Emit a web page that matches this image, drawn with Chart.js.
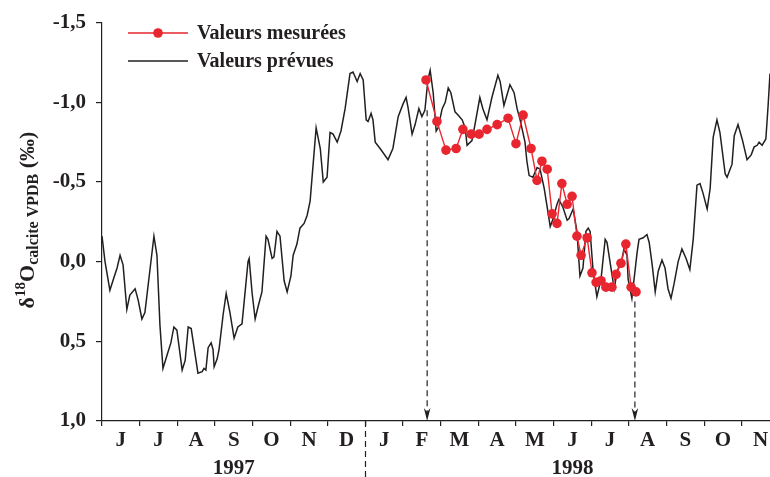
<!DOCTYPE html>
<html>
<head>
<meta charset="utf-8">
<script src="https://cdn.jsdelivr.net/npm/chart.js@4.4.1/dist/chart.umd.min.js"></script>
<style>
  html, body { margin: 0; padding: 0; background: #fff; }
</style>
</head>
<body>
<canvas id="chart" width="770" height="477"></canvas>
<script>
// x values are months counted from 1 June 1997
const monthLabels = ['J', 'J', 'A', 'S', 'O', 'N', 'D', 'J', 'F', 'M', 'A', 'M', 'J', 'J', 'A', 'S', 'O', 'N'];
const yearLabels = ['1997', '1998'];
const yearCenters = [3.5, 12.5];
const yearBreak = 7;
const yTicks = [-1.5, -1.0, -0.5, 0.0, 0.5, 1.0];

// Valeurs prévues (black line)
const predX = [0, 0.08, 0.21, 0.29, 0.40, 0.48, 0.56, 0.66, 0.74, 0.88, 0.96, 1.06, 1.14, 1.28, 1.38, 1.46,
  1.54, 1.62, 1.75, 1.83, 1.91, 1.99, 2.13, 2.21, 2.29, 2.37, 2.55, 2.66, 2.71, 2.76, 2.82, 2.90, 2.95, 2.98,
  3.06, 3.11, 3.22, 3.30, 3.40, 3.51, 3.61, 3.72, 3.77, 3.88, 3.91, 3.99, 4.07, 4.15, 4.25, 4.36, 4.41, 4.52,
  4.57, 4.65, 4.73, 4.84, 4.92, 5.02, 5.08, 5.18, 5.26, 5.37, 5.45, 5.53, 5.61, 5.69, 5.80, 5.88, 5.98, 6.06,
  6.14, 6.25, 6.35, 6.46, 6.59, 6.67, 6.78, 6.86, 6.94, 7.02, 7.07, 7.15, 7.20, 7.26, 7.39, 7.60, 7.73, 7.87,
  8.00, 8.08, 8.13, 8.24, 8.32, 8.42, 8.50, 8.58, 8.66, 8.72, 8.80, 8.88, 8.93, 9.04, 9.12, 9.20, 9.27, 9.38,
  9.46, 9.57, 9.65, 9.70, 9.83, 9.91, 10.04, 10.12, 10.23, 10.36, 10.52, 10.58, 10.68, 10.84, 10.95, 11.03,
  11.11, 11.24, 11.29, 11.35, 11.45, 11.56, 11.64, 11.75, 11.85, 11.91, 11.99, 12.09, 12.14, 12.25, 12.36,
  12.41, 12.52, 12.62, 12.70, 12.78, 12.86, 12.92, 12.97, 13.05, 13.15, 13.26, 13.37, 13.42, 13.55, 13.61,
  13.69, 13.82, 13.87, 13.95, 13.98, 14.08, 14.22, 14.27, 14.38, 14.48, 14.54, 14.62, 14.70, 14.78, 14.88,
  14.96, 15.04, 15.12, 15.20, 15.31, 15.41, 15.52, 15.62, 15.71, 15.81, 15.89, 15.97, 16.08, 16.16, 16.24,
  16.34, 16.42, 16.56, 16.61, 16.69, 16.74, 16.80, 16.90, 17.01, 17.14, 17.25, 17.33, 17.41, 17.46, 17.54,
  17.64, 17.70, 17.75];
const predY = [-0.16, 0.00, 0.18, 0.12, 0.04, -0.04, 0.02, 0.30, 0.21, 0.17, 0.24, 0.36, 0.32, 0.04, -0.16, -0.04,
  0.40, 0.67, 0.57, 0.51, 0.41, 0.43, 0.68, 0.62, 0.41, 0.42, 0.70, 0.69, 0.67, 0.68, 0.54, 0.51, 0.55, 0.66,
  0.61, 0.55, 0.33, 0.20, 0.32, 0.48, 0.41, 0.39, 0.27, 0.00, -0.02, 0.20, 0.36, 0.28, 0.19, -0.16, -0.14, -0.02,
  -0.03, -0.19, -0.16, 0.12, 0.19, 0.09, -0.04, -0.11, -0.21, -0.24, -0.29, -0.38, -0.61, -0.84, -0.71, -0.50, -0.53, -0.81,
  -0.80, -0.75, -0.82, -0.96, -1.18, -1.19, -1.13, -1.18, -1.14, -0.89, -0.88, -0.93, -0.89, -0.75, -0.71, -0.64, -0.71, -0.91,
  -0.99, -1.03, -0.97, -0.80, -0.86, -0.96, -0.91, -0.95, -1.14, -1.20, -1.06, -0.82, -0.84, -0.96, -1.00, -1.09, -1.06, -0.94,
  -0.92, -0.89, -0.84, -0.73, -0.76, -0.86, -1.03, -0.96, -0.89, -1.03, -1.17, -1.13, -0.98, -1.11, -1.06, -0.96,
  -0.89, -0.75, -0.63, -0.54, -0.53, -0.59, -0.58, -0.46, -0.31, -0.22, -0.27, -0.36, -0.39, -0.34, -0.26,
  -0.27, -0.33, -0.19, 0.09, 0.04, -0.19, -0.21, -0.19, 0.06, 0.22, 0.11, -0.14, -0.12, 0.08, 0.17,
  0.06, -0.02, -0.08, -0.04, 0.11, 0.23, -0.06, -0.14, -0.15, -0.17, -0.12, 0.02, 0.19, 0.06, -0.01,
  0.04, 0.17, 0.23, 0.14, 0.00, -0.08, -0.02, 0.05, -0.14, -0.48, -0.49, -0.43, -0.33, -0.46, -0.78,
  -0.89, -0.81, -0.55, -0.53, -0.58, -0.61, -0.79, -0.86, -0.77, -0.64, -0.67, -0.72, -0.73, -0.75, -0.73,
  -0.77, -0.98, -1.18];

// Valeurs mesurées (red dots)
const measX = [8.61, 8.90, 9.14, 9.41, 9.59, 9.81, 10.02, 10.23, 10.50, 10.79, 11.00, 11.19, 11.40, 11.56, 11.69,
  11.83, 11.96, 12.09, 12.22, 12.36, 12.49, 12.62, 12.73, 12.89, 13.02, 13.13, 13.26, 13.39, 13.55, 13.66,
  13.79, 13.92, 14.06, 14.19];
const measY = [-1.14, -0.88, -0.70, -0.71, -0.83, -0.80, -0.80, -0.83, -0.86, -0.90, -0.74, -0.92, -0.71, -0.51, -0.63,
  -0.58, -0.30, -0.24, -0.49, -0.36, -0.41, -0.16, -0.04, -0.15, 0.07, 0.13, 0.12, 0.16, 0.16, 0.08,
  0.01, -0.11, 0.16, 0.19];

// dashed arrows marking the measured period
const arrowX = [8.64, 14.16];
const arrowTop = [-0.95, 0.25];

const FONT = '"Liberation Serif", "Times New Roman", serif';
const INK = '#231f20';
const RED = '#e8262f';

const predData = predX.map((x, i) => ({ x: x, y: predY[i] }));
const measData = measX.map((x, i) => ({ x: x, y: measY[i] }));

const arrowSets = arrowX.map((x, i) => ({
    label: 'arrow' + i,
    data: [{ x: x, y: arrowTop[i] }, { x: x, y: 1.0 }],
    borderColor: INK,
    borderWidth: 1.2,
    borderDash: [6, 4],
    pointRadius: 0,
    order: 2
}));

// chart.js reserves room for edge labels; the reference runs to the border
function noSidePadding(axis, h) {
    axis.height = h;
    axis.paddingLeft = 0;
    axis.paddingRight = 0;
}

const extras = {
    id: 'extras',
    afterDraw(chart) {
        const ctx = chart.ctx;
        const xs = chart.scales.x;
        const ys = chart.scales.y;
        const area = chart.chartArea;
        ctx.save();

        // arrow heads
        ctx.fillStyle = INK;
        arrowX.forEach(v => {
            const px = xs.getPixelForValue(v);
            const pb = ys.getPixelForValue(1.0);
            ctx.beginPath();
            ctx.moveTo(px, pb);
            ctx.lineTo(px - 3.3, pb - 13);
            ctx.lineTo(px, pb - 9);
            ctx.lineTo(px + 3.3, pb - 13);
            ctx.closePath();
            ctx.fill();
        });

        // year separator below the axis
        const bx = Math.round(xs.getPixelForValue(yearBreak)) + 0.5;
        ctx.strokeStyle = INK;
        ctx.lineWidth = 1.2;
        ctx.setLineDash([6, 4]);
        ctx.beginPath();
        ctx.moveTo(bx, area.bottom);
        ctx.lineTo(bx, chart.height);
        ctx.stroke();
        ctx.setLineDash([]);

        // legend
        const items = [
            { label: chart.data.datasets[0].label, color: RED, dot: true, y: 33 },
            { label: chart.data.datasets[1].label, color: INK, dot: false, y: 61 }
        ];
        ctx.font = 'bold 20px ' + FONT;
        ctx.textBaseline = 'middle';
        items.forEach(it => {
            ctx.strokeStyle = it.color;
            ctx.lineWidth = it.dot ? 1.4 : 1.6;
            ctx.beginPath();
            ctx.moveTo(128, it.y);
            ctx.lineTo(188, it.y);
            ctx.stroke();
            if (it.dot) {
                ctx.fillStyle = RED;
                ctx.beginPath();
                ctx.arc(158, it.y, 4.8, 0, Math.PI * 2);
                ctx.fill();
            }
            ctx.fillStyle = INK;
            ctx.fillText(it.label, 197, it.y + 1);
        });

        // y axis title with super/subscripts
        const parts = [
            { t: '\u03b4', f: 'bold 22px ' + FONT, dy: 0 },
            { t: '18', f: 'bold 15px ' + FONT, dy: -9 },
            { t: 'O', f: 'bold 22px ' + FONT, dy: 0 },
            { t: 'calcite VPDB', f: 'bold 16px ' + FONT, dy: 4 },
            { t: ' (\u2030)', f: 'bold 22px ' + FONT, dy: 0 }
        ];
        let total = 0;
        parts.forEach(p => { ctx.font = p.f; p.w = ctx.measureText(p.t).width; total += p.w; });
        ctx.translate(34, 220);
        ctx.rotate(-Math.PI / 2);
        ctx.textBaseline = 'alphabetic';
        ctx.fillStyle = INK;
        let cx = -total / 2;
        parts.forEach(p => {
            ctx.font = p.f;
            ctx.fillText(p.t, cx, p.dy);
            cx += p.w;
        });
        ctx.restore();
    }
};

new Chart(document.getElementById('chart'), {
    type: 'line',
    data: {
        datasets: [
            {
                label: 'Valeurs mesurées',
                data: measData,
                borderColor: RED,
                borderWidth: 1.4,
                pointRadius: 4.8,
                pointBackgroundColor: RED,
                pointBorderWidth: 0,
                tension: 0,
                order: 0
            },
            {
                label: 'Valeurs prévues',
                data: predData,
                borderColor: INK,
                borderWidth: 1.5,
                pointRadius: 0,
                tension: 0,
                order: 1
            },
            ...arrowSets
        ]
    },
    options: {
        responsive: false,
        animation: false,
        layout: { autoPadding: false, padding: { top: 20, left: 0, right: 0, bottom: 0 } },
        plugins: {
            legend: { display: false },
            tooltip: { enabled: false }
        },
        scales: {
            x: {
                type: 'linear',
                position: 'bottom',
                min: 0,
                max: 17.75,
                afterBuildTicks: axis => {
                    const t = [];
                    for (let i = 0; i < monthLabels.length; i++) {
                        t.push({ value: i });
                        t.push({ value: i + 0.5 });
                    }
                    axis.ticks = t;
                },
                afterFit: axis => noSidePadding(axis, 30),
                ticks: {
                    autoSkip: false,
                    maxRotation: 0,
                    padding: 2,
                    color: INK,
                    font: { family: FONT, size: 21, weight: 'bold' },
                    callback: v => Number.isInteger(v) ? '' : monthLabels[Math.floor(v)]
                },
                grid: {
                    drawOnChartArea: false,
                    tickLength: 5,
                    lineWidth: 1.2,
                    color: c => (c.tick && Number.isInteger(c.tick.value)) ? INK : 'rgba(0,0,0,0)'
                },
                border: { color: INK, width: 1.2 }
            },
            x2: {
                type: 'linear',
                position: 'bottom',
                min: 0,
                max: 17.75,
                afterBuildTicks: axis => {
                    axis.ticks = yearCenters.map(v => ({ value: v }));
                },
                afterFit: axis => noSidePadding(axis, 26),
                ticks: {
                    autoSkip: false,
                    maxRotation: 0,
                    padding: 5,
                    color: INK,
                    font: { family: FONT, size: 21, weight: 'bold' },
                    callback: (v, i) => yearLabels[i]
                },
                grid: { display: false, drawTicks: false },
                border: { display: false }
            },
            y: {
                type: 'linear',
                reverse: true,
                min: -1.5,
                max: 1.0,
                afterBuildTicks: axis => {
                    axis.ticks = yTicks.map(v => ({ value: v }));
                },
                afterFit: axis => { axis.width = 102; },
                ticks: {
                    padding: 10,
                    color: INK,
                    font: { family: FONT, size: 21, weight: 'bold' },
                    callback: v => v.toFixed(1).replace('.', ',')
                },
                grid: {
                    drawOnChartArea: false,
                    tickLength: 6,
                    lineWidth: 1.2,
                    color: INK
                },
                border: { color: INK, width: 1.2 }
            }
        }
    },
    plugins: [extras]
});
</script>
</body>
</html>
